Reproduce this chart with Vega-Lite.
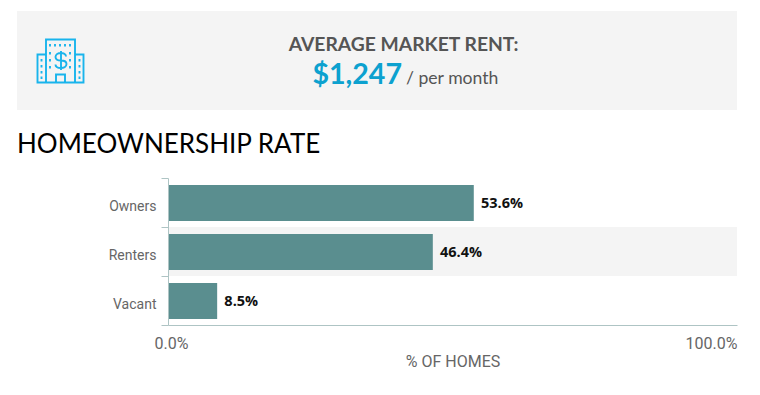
{
"$schema":"https://vega.github.io/schema/vega-lite/v6.json",
"width":569,"height":147,
"autosize":{"type":"none"},
"padding":{"left":168,"top":178,"right":23,"bottom":70},
"background":"#ffffff",
"config":{"view":{"stroke":null},"font":"Roboto"},
"datasets":{
"rates":[{"status":"Owners","pct":53.6,"label":"53.6%"},{"status":"Renters","pct":46.4,"label":"46.4%"},{"status":"Vacant","pct":8.5,"label":"8.5%"}],
"banner":[{"heading":"AVERAGE MARKET RENT:","rent":1247,"unit":"/ per month","edge0":"start","edge1":"end","icon":"building","section":"HOMEOWNERSHIP RATE"}]
},
"layer":[
{"data":{"name":"banner"},"mark":{"type":"rect","color":"#f4f4f4"},
"encoding":{
"x":{"field":"edge0","type":"nominal","axis":null,"scale":{"type":"point","domain":["start","end"],"range":[-151,569],"padding":0}},
"x2":{"field":"edge1"},
"y":{"field":"edge0","type":"nominal","axis":null,"scale":{"type":"point","domain":["start","end"],"range":[-167,-68],"padding":0}},
"y2":{"field":"edge1"}}},
{"data":{"name":"banner"},
"mark":{"type":"point","filled":false,"size":4,"stroke":"#19b4ec","strokeWidth":1.9,"opacity":1,
"shape":"M-14.5,21.5 V-21.5 H14.5 V21.5 Z M-14.5,-6.5 H-23 V21.5 H23 V-6.5 H14.5 M-4.5,21.5 V13.5 H4.5 V21.5 M5.5,-4.5 C5.5,-7 3,-8 0.5,-8 C-2.5,-8 -5,-6.5 -5,-4 C-5,-1.5 -3,-0.5 0.5,-0.5 C3.5,-0.5 6,0.5 6,3 C6,6 3,7 0.5,7 C-2.5,7 -5,6 -5,3.5 M0.5,-10 V9 M-10.5,-17 v2.5 M-5.5,-17 v2.5 M-0.5,-17 v2.5 M4.5,-17 v2.5 M9.5,-17 v2.5 M-10.5,-9 v2.5 M-10.5,-2 v2.5 M-10.5,5 v2.5 M9.5,-9 v2.5 M9.5,-2 v2.5 M9.5,5 v2.5 M-19,-2 v2.5 M-19,4 v2.5 M-19,10 v2.5 M-19,15.5 v2.5 M19,-2 v2.5 M19,4 v2.5 M19,10 v2.5 M19,15.5 v2.5"},
"encoding":{
"x":{"field":"icon","type":"nominal","axis":null,"scale":{"type":"point","domain":["building"],"range":[-107.5,-107.5]}},
"y":{"field":"icon","type":"nominal","axis":null,"scale":{"type":"point","domain":["building"],"range":[-117,-117]}}}},
{"data":{"name":"banner"},
"mark":{"type":"text","font":"Lato","fontWeight":"bold","fontSize":19.3,"color":"#555555","align":"center","baseline":"alphabetic"},
"encoding":{
"text":{"field":"heading"},
"x":{"field":"heading","type":"nominal","axis":null,"scale":{"type":"point","range":[235.5,235.5]}},
"y":{"field":"heading","type":"nominal","axis":null,"scale":{"type":"point","range":[-127,-127]}}}},
{"data":{"name":"banner"},
"mark":{"type":"text","font":"Lato","fontWeight":"bold","fontSize":28.6,"color":"#0ca1cf","align":"right","baseline":"alphabetic"},
"encoding":{
"text":{"field":"rent","type":"quantitative","format":"$,.0f"},
"x":{"field":"heading","type":"nominal","axis":null,"scale":{"type":"point","range":[234,234]}},
"y":{"field":"heading","type":"nominal","axis":null,"scale":{"type":"point","range":[-94,-94]}}}},
{"data":{"name":"banner"},
"mark":{"type":"text","font":"Lato","fontSize":17.6,"color":"#555555","align":"left","baseline":"alphabetic"},
"encoding":{
"text":{"field":"unit"},
"x":{"field":"unit","type":"nominal","axis":null,"scale":{"type":"point","range":[238,238]}},
"y":{"field":"unit","type":"nominal","axis":null,"scale":{"type":"point","range":[-94,-94]}}}},
{"data":{"name":"banner"},
"mark":{"type":"text","font":"Lato","fontSize":26,"color":"#000000","align":"left","baseline":"alphabetic"},
"encoding":{
"text":{"field":"section"},
"x":{"field":"section","type":"nominal","axis":null,"scale":{"type":"point","range":[-151,-151]}},
"y":{"field":"section","type":"nominal","axis":null,"scale":{"type":"point","range":[-25,-25]}}}},
{"data":{"name":"rates"},
"layer":[
{"transform":[{"filter":"datum.status === 'Renters'"}],"mark":{"type":"rect","color":"#f4f4f4"},
"encoding":{"x":{"datum":0},"x2":{"datum":100},"y":{"field":"status","type":"nominal"}}},
{"mark":{"type":"bar","color":"#5a8e8f","height":{"band":0.735},"yOffset":0.5,"xOffset":0.8},
"encoding":{"x":{"field":"pct","type":"quantitative"},"y":{"field":"status","type":"nominal"}}},
{"mark":{"type":"text","font":"Open Sans","fontWeight":"bold","fontSize":14.5,"color":"#111111","align":"left","baseline":"middle","dx":8,"dy":1},
"encoding":{"x":{"field":"pct","type":"quantitative"},"y":{"field":"status","type":"nominal"},
"text":{"field":"label"}}}
],
"encoding":{
"x":{"field":"pct","type":"quantitative",
"scale":{"domain":[0,100],"nice":false},
"axis":{"values":[0,100],"grid":false,"ticks":false,"domainColor":"#aec4c4","domainWidth":1,"title":"% OF HOMES","titleFont":"Roboto","titleFontSize":16,"titleFontWeight":"normal","titleColor":"#666666","titlePadding":2,"labelFont":"Roboto","labelFontSize":16,"labelColor":"#666666","labelPadding":10,"labelExpr":"format(datum.value,'.1f')+'%'","labelAlign":{"expr":"datum.value === 0 ? 'center' : 'right'"},"labelOffset":{"expr":"datum.value === 0 ? 3 : 0"},"labelBound":false,"labelFlush":false}},
"y":{"field":"status","type":"nominal","sort":["Owners","Renters","Vacant"],
"scale":{"domain":["Owners","Renters","Vacant"],"paddingInner":0,"paddingOuter":0},
"axis":{"title":null,"grid":false,"tickBand":"extent","tickSize":7,"tickColor":"#aec4c4","domainColor":"#aec4c4","labelFont":"Roboto","labelFontSize":14,"labelColor":"#666666","labelPadding":5,"labelOffset":4}}
}
}
],
"resolve":{"scale":{"x":"independent","y":"independent"},"axis":{"x":"independent","y":"independent"}}
}
